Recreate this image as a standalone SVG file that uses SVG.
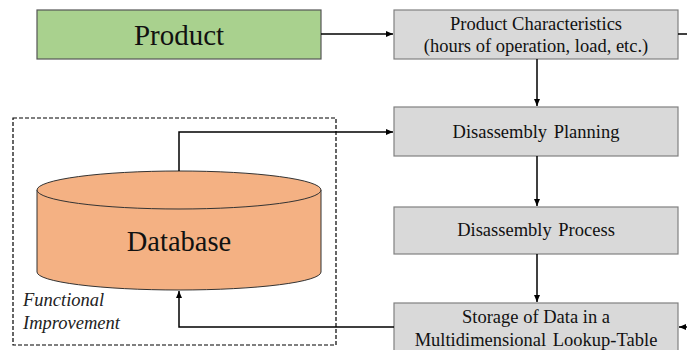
<svg xmlns="http://www.w3.org/2000/svg" width="687" height="350" viewBox="0 0 687 350">
<style>
.box{fill:#d9d9d9;stroke:#808080;stroke-width:1.2}
.t{font-family:'Liberation Serif','Times New Roman','DejaVu Serif',serif;fill:#111;text-anchor:middle}
.i{font-family:'Liberation Serif','Times New Roman','DejaVu Serif',serif;font-style:italic;fill:#222}
.c{fill:none;stroke:#000;stroke-width:1.5}
</style>
<defs>
<marker id="ah" markerWidth="8" markerHeight="8" refX="7" refY="4" orient="auto" markerUnits="userSpaceOnUse">
<path d="M0,1 L7,4 L0,7 Z" fill="#000"/>
</marker>
</defs>
<rect width="687" height="350" fill="#fff"/>
<g id="functional-improvement">
<rect x="13" y="118" width="323" height="227" fill="none" stroke="#000" stroke-width="1.2" stroke-dasharray="4,2"/>
<text class="i" x="23" y="306" font-size="18.5">Functional</text>
<text class="i" x="23" y="329" font-size="18.5">Improvement</text>
</g>
<g id="product">
<rect x="37" y="10" width="284" height="49" fill="#a9d18e" stroke="#555" stroke-width="1.2"/>
<text class="t" x="179" y="45" font-size="29">Product</text>
</g>
<g id="characteristics">
<rect class="box" x="394" y="10" width="284" height="49"/>
<text class="t" x="536" y="30" font-size="18.5">Product Characteristics</text>
<text class="t" x="536" y="52" font-size="18.5">(hours of operation, load, etc.)</text>
</g>
<g id="planning">
<rect class="box" x="394" y="107" width="284" height="49"/>
<text class="t" x="536" y="138" font-size="18.5" word-spacing="2">Disassembly Planning</text>
</g>
<g id="process">
<rect class="box" x="394" y="207" width="284" height="47"/>
<text class="t" x="536" y="236" font-size="18.5" word-spacing="2">Disassembly Process</text>
</g>
<g id="storage">
<rect class="box" x="394" y="303" width="284" height="55"/>
<text class="t" x="536" y="323" font-size="18.5">Storage of Data in a</text>
<text class="t" x="536" y="346" font-size="18.5" word-spacing="2">Multidimensional Lookup-Table</text>
</g>
<g id="database">
<path d="M37,190 L37,272 A142,18 0 0 0 321,272 L321,190" fill="#f4b183" stroke="#333" stroke-width="1"/>
<ellipse cx="179" cy="190" rx="142" ry="19" fill="#f4b183" stroke="#333" stroke-width="1"/>
<text class="t" x="179" y="251" font-size="28.5">Database</text>
</g>
<g id="connectors">
<path class="c" d="M321,34 L393,34" marker-end="url(#ah)"/>
<path class="c" d="M678,34 L687,34"/>
<path class="c" d="M537,59 L537,106" marker-end="url(#ah)"/>
<path class="c" d="M537,156 L537,206" marker-end="url(#ah)"/>
<path class="c" d="M537,254 L537,302" marker-end="url(#ah)"/>
<path class="c" d="M179,171 L179,132 L393,132" marker-end="url(#ah)"/>
<path class="c" d="M394,327 L179,327 L179,291" marker-end="url(#ah)"/>
<path class="c" d="M687,327 L679,327" marker-end="url(#ah)"/>
</g>
</svg>
